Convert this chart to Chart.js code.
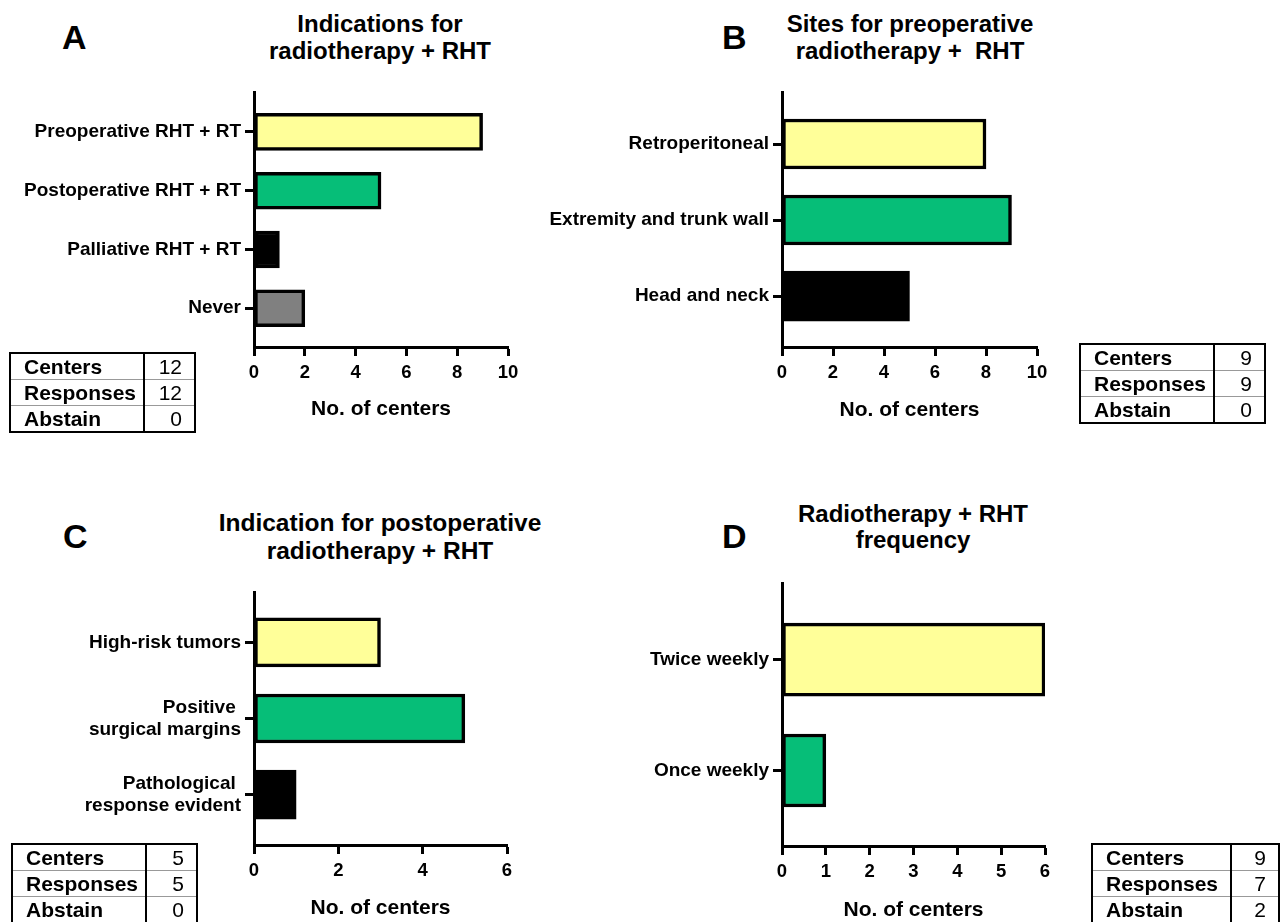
<!DOCTYPE html>
<html>
<head>
<meta charset="utf-8">
<script src="https://cdn.jsdelivr.net/npm/chart.js@4.4.1/dist/chart.umd.min.js"></script>
<style>
  body { margin: 0; background: #fff; }
  #page { position: relative; width: 1281px; height: 922px; overflow: hidden; background: #fff; }
  #page canvas { position: absolute; left: 0; top: 0; }
  .title { position: absolute; width: 440px; text-align: center; font-weight: bold; color: #000; white-space: pre;
           font-family: "Liberation Sans", Arial, sans-serif; }
  .letter { position: absolute; font-weight: bold; color: #000; font-size: 34px; line-height: 34px;
            font-family: "Liberation Sans", Arial, sans-serif; }
  table.stats { position: absolute; border-collapse: collapse; font-family: "Liberation Sans", Arial, sans-serif; font-size: 21px; color: #000; }
  table.stats { border: 2px solid #000; }
  table.stats td { height: 25px; padding: 0; line-height: 25px; border-top: 1px solid #999; }
  table.stats tr:first-child td { border-top: none; }
  table.stats td.lab { font-weight: bold; padding-left: 13px; border-right: 2px solid #000; }
  table.stats td.val { text-align: right; padding-right: 12px; }
</style>
</head>
<body>
<div id="page">
  <div class="letter" style="left:62px; top:20px;">A</div>
  <div class="title" style="left:160px; top:10px; font-size:24px; line-height:27px;">Indications for
radiotherapy + RHT</div>

  <div class="letter" style="left:722px; top:20px;">B</div>
  <div class="title" style="left:690px; top:10px; font-size:24px; line-height:27px;">Sites for preoperative
radiotherapy +  RHT</div>

  <div class="letter" style="left:63px; top:519px;">C</div>
  <div class="title" style="left:160px; top:509px; font-size:24.5px; line-height:28px;">Indication for postoperative
radiotherapy + RHT</div>

  <div class="letter" style="left:722px; top:519px;">D</div>
  <div class="title" style="left:693px; top:501px; font-size:24px; line-height:26px;">Radiotherapy + RHT
frequency</div>
</div>

<script>
// Cores das barras
const YELLOW = '#FFFF99';
const GREEN = '#06BE78';
const BLACK = '#000000';
const GREY = '#808080';

// Painel A
const catsA = ['Preoperative RHT + RT', 'Postoperative RHT + RT', 'Palliative RHT + RT', 'Never'];
const valsA = [9, 5, 1, 2];
const colorsA = [YELLOW, GREEN, BLACK, GREY];
const xTicksA = [0, 2, 4, 6, 8, 10];

// Painel B
const catsB = ['Retroperitoneal', 'Extremity and trunk wall', 'Head and neck'];
const valsB = [8, 9, 5];
const colorsB = [YELLOW, GREEN, BLACK];
const xTicksB = [0, 2, 4, 6, 8, 10];

// Painel C
const catsC = ['High-risk tumors', ['Positive ', 'surgical margins'], ['Pathological ', 'response evident']];
const valsC = [3, 5, 1];
const colorsC = [YELLOW, GREEN, BLACK];
const xTicksC = [0, 2, 4, 6];

// Painel D
const catsD = ['Twice weekly', 'Once weekly'];
const valsD = [6, 1];
const colorsD = [YELLOW, GREEN];
const xTicksD = [0, 1, 2, 3, 4, 5, 6];

// Tabelas
const tableLabels = ['Centers', 'Responses', 'Abstain'];
const tableA = [12, 12, 0];
const tableB = [9, 9, 0];
const tableC = [5, 5, 0];
const tableD = [9, 7, 2];

const PAGE_W = 1281;
const PAGE_H = 922;
const SANS = '"Liberation Sans", Arial, sans-serif';

function makePanel(cfg) {
    const page = document.getElementById('page');
    const canvas = document.createElement('canvas');
    canvas.width = PAGE_W;
    canvas.height = PAGE_H;
    page.appendChild(canvas);

    const area = cfg.area; // caixa do grafico em pixels da pagina
    const axisBottom = area.titleY + 12.6; // centro do titulo do eixo + meia altura da linha

    new Chart(canvas.getContext('2d'), {
        type: 'bar',
        data: {
            datasets: [{
                data: cfg.values.map((v, i) => ({ x: v, y: i })),
                backgroundColor: cfg.colors,
                borderColor: '#000',
                borderWidth: 3.5,
                borderSkipped: false,
                barThickness: cfg.barThickness
            }]
        },
        options: {
            indexAxis: 'y',
            responsive: false,
            animation: false,
            events: [],
            layout: {
                padding: {
                    left: 0,
                    top: area.top,
                    right: PAGE_W - area.right,
                    bottom: PAGE_H - axisBottom
                }
            },
            plugins: {
                legend: { display: false },
                tooltip: { enabled: false },
                title: { display: false }
            },
            scales: {
                y: {
                    type: 'linear',
                    reverse: true,
                    offset: false,
                    min: cfg.yRange[0],
                    max: cfg.yRange[1],
                    afterBuildTicks: s => { s.ticks = cfg.cats.map((c, i) => ({ value: i })); },
                    afterFit: s => { s.width = area.left; },
                    grid: { offset: false, drawOnChartArea: false, drawTicks: true, tickLength: 9, tickWidth: 3, tickColor: '#000' },
                    border: { display: true, color: '#000', width: 3 },
                    ticks: {
                        autoSkip: false,
                        padding: 4,
                        color: '#000',
                        font: { family: SANS, size: 19, weight: 'bold', lineHeight: 1.15 },
                        callback: v => cfg.cats[v]
                    }
                },
                x: {
                    type: 'linear',
                    min: cfg.xTicks[0],
                    max: cfg.xTicks[cfg.xTicks.length - 1],
                    afterBuildTicks: s => { s.ticks = cfg.xTicks.map(v => ({ value: v })); },
                    afterFit: s => { s.height = axisBottom - area.bottom; },
                    grid: { drawOnChartArea: false, drawTicks: true, tickLength: 9, tickWidth: 3, tickColor: '#000' },
                    border: { display: true, color: '#000', width: 3 },
                    ticks: {
                        autoSkip: false,
                        maxRotation: 0,
                        padding: 6,
                        color: '#000',
                        font: { family: SANS, size: 18.5, weight: 'bold' }
                    },
                    title: {
                        display: true,
                        text: 'No. of centers',
                        color: '#000',
                        padding: 0,
                        font: { family: SANS, size: 21, weight: 'bold', lineHeight: 1.2 }
                    }
                }
            }
        }
    });
}

function makeTable(values, pos) {
    const t = document.createElement('table');
    t.className = 'stats';
    t.style.left = pos.left + 'px';
    t.style.top = pos.top + 'px';
    let html = '';
    tableLabels.forEach((lab, i) => {
        html += `<tr><td class="lab" style="width:${pos.labW}px">${lab}</td>` +
                `<td class="val" style="width:${pos.valW}px">${values[i]}</td></tr>`;
    });
    t.innerHTML = html;
    document.getElementById('page').appendChild(t);
}

makePanel({
    cats: catsA, values: valsA, colors: colorsA, xTicks: xTicksA,
    area: { left: 254, top: 92, right: 508, bottom: 347, titleY: 409 },
    yRange: [-0.68, 3.66], barThickness: 37
});
makePanel({
    cats: catsB, values: valsB, colors: colorsB, xTicks: xTicksB,
    area: { left: 782, top: 92, right: 1037, bottom: 347, titleY: 410 },
    yRange: [-0.684, 2.67], barThickness: 50
});
makePanel({
    cats: catsC, values: valsC, colors: colorsC, xTicks: xTicksC,
    area: { left: 254, top: 592, right: 507, bottom: 845, titleY: 908 },
    yRange: [-0.66, 2.66], barThickness: 49
});
makePanel({
    cats: catsD, values: valsD, colors: colorsD, xTicks: xTicksD,
    area: { left: 782, top: 583, right: 1045, bottom: 846, titleY: 910 },
    yRange: [-0.69, 1.68], barThickness: 73
});

makeTable(tableA, { left: 9, top: 352, labW: 119, valW: 37 });
makeTable(tableB, { left: 1079, top: 343, labW: 119, valW: 37 });
makeTable(tableC, { left: 11, top: 843, labW: 119, valW: 37 });
makeTable(tableD, { left: 1091, top: 843, labW: 124, valW: 34 });
</script>
</body>
</html>
